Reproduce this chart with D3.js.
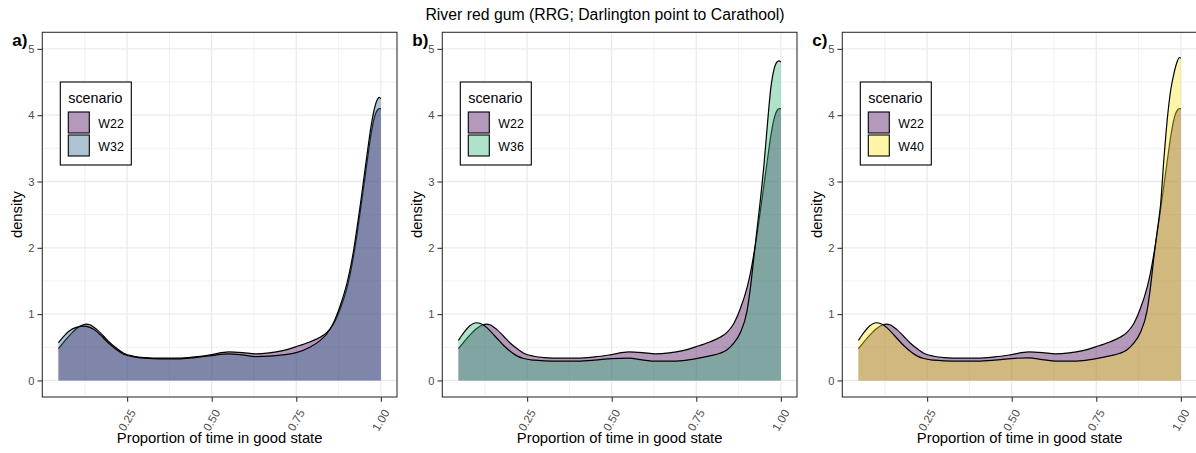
<!DOCTYPE html>
<html><head><meta charset="utf-8">
<script src="https://cdn.jsdelivr.net/npm/d3@7"></script>
<style>
body{margin:0;background:#fff;}
svg{display:block;font-family:"Liberation Sans", Arial, Helvetica, sans-serif;}
</style>
</head><body>
<svg id="chart" width="1196" height="453"></svg>
<script>
// ---- data ----
const chartTitle = "River red gum (RRG; Darlington point to Carathool)";
const panelTags = ["a)", "b)", "c)"];
const xTitle = "Proportion of time in good state";
const yTitle = "density";
const legendTitle = "scenario";
const scenarioColors = {W22: "#440154", W32: "#31688e", W36: "#35b779", W40: "#fde725"};
const panelScenarios = [["W22", "W32"], ["W22", "W36"], ["W22", "W40"]];
const xTicks = [0.25, 0.5, 0.75, 1.0];
const xTickLabels = ["0.25", "0.50", "0.75", "1.00"];
const xMinor = [0.125, 0.375, 0.625, 0.875];
const yTicks = [0, 1, 2, 3, 4, 5];
const yMinor = [0.5, 1.5, 2.5, 3.5, 4.5];
const yLimits = [0, 5];

// proportion of time in good state (density evaluation points)
const proportion = [0.047, 0.06, 0.08, 0.10, 0.12, 0.13, 0.14, 0.16, 0.18, 0.20,
  0.22, 0.24, 0.27, 0.30, 0.35, 0.40, 0.45, 0.50, 0.55, 0.59,
  0.63, 0.67, 0.71, 0.75, 0.79, 0.82, 0.84, 0.86, 0.88, 0.90,
  0.91, 0.92, 0.93, 0.94, 0.95, 0.96, 0.97, 0.98, 0.99, 0.995, 1.0];

const densityW22 = [0.48, 0.56, 0.68, 0.78, 0.84, 0.85, 0.84, 0.77, 0.67, 0.565,
  0.48, 0.41, 0.365, 0.345, 0.335, 0.335, 0.355, 0.39, 0.43, 0.42,
  0.40, 0.415, 0.45, 0.51, 0.58, 0.65, 0.72, 0.85, 1.08, 1.40,
  1.62, 1.90, 2.22, 2.58, 2.95, 3.32, 3.68, 3.95, 4.08, 4.10, 4.10];

const densityW32 = [0.57, 0.65, 0.75, 0.80, 0.82, 0.815, 0.80, 0.74, 0.64, 0.54,
  0.46, 0.395, 0.355, 0.335, 0.325, 0.325, 0.345, 0.375, 0.40, 0.385,
  0.36, 0.365, 0.385, 0.42, 0.50, 0.60, 0.70, 0.87, 1.13, 1.47,
  1.70, 1.98, 2.32, 2.68, 3.06, 3.44, 3.80, 4.08, 4.24, 4.27, 4.25];

const densityW36 = [0.605, 0.70, 0.82, 0.87, 0.84, 0.80, 0.75, 0.64, 0.53, 0.44,
  0.37, 0.33, 0.305, 0.295, 0.29, 0.29, 0.305, 0.33, 0.335, 0.31,
  0.29, 0.29, 0.30, 0.33, 0.37, 0.41, 0.46, 0.56, 0.72, 1.05,
  1.40, 1.85, 2.30, 2.75, 3.25, 3.85, 4.40, 4.70, 4.81, 4.82, 4.80];

const densityW40 = [0.605, 0.70, 0.82, 0.87, 0.84, 0.80, 0.75, 0.64, 0.53, 0.44,
  0.37, 0.33, 0.305, 0.295, 0.29, 0.29, 0.305, 0.33, 0.34, 0.315,
  0.29, 0.29, 0.30, 0.33, 0.37, 0.41, 0.46, 0.56, 0.72, 1.05,
  1.40, 1.85, 2.25, 2.65, 3.35, 3.95, 4.38, 4.64, 4.82, 4.87, 4.86];

const densityBy = {W22: densityW22, W32: densityW32, W36: densityW36, W40: densityW40};

// ---- layout ----
const fillAlpha = 0.4;
const panelW = 354.7, panelTop = 32.3, panelBottom = 397;
const panelLefts = [42.3, 442.3, 842.3];

const svg = d3.select("#chart");

svg.append("text")
  .attr("x", 605).attr("y", 20)
  .attr("text-anchor", "middle")
  .attr("font-size", 15.8).attr("fill", "#000")
  .text(chartTitle);

// ggplot-style 5% expansion of the data range
const xExt = d3.extent(proportion);
const xPad = (xExt[1] - xExt[0]) * 0.05;
const yPad = (yLimits[1] - yLimits[0]) * 0.05;

panelScenarios.forEach((pair, i) => {
  const left = panelLefts[i];
  const g = svg.append("g");

  const x = d3.scaleLinear().domain([xExt[0] - xPad, xExt[1] + xPad]).range([left, left + panelW]);
  const y = d3.scaleLinear().domain([yLimits[0] - yPad, yLimits[1] + yPad]).range([panelBottom, panelTop]);

  // background grid
  g.append("rect").attr("x", left).attr("y", panelTop)
    .attr("width", panelW).attr("height", panelBottom - panelTop).attr("fill", "#fff");
  const grid = g.append("g");
  grid.selectAll(".vmin").data(xMinor).join("line")
    .attr("x1", d => x(d)).attr("x2", d => x(d)).attr("y1", panelTop).attr("y2", panelBottom)
    .attr("stroke", "#ebebeb").attr("stroke-width", 0.7);
  grid.selectAll(".hmin").data(yMinor).join("line")
    .attr("y1", d => y(d)).attr("y2", d => y(d)).attr("x1", left).attr("x2", left + panelW)
    .attr("stroke", "#ebebeb").attr("stroke-width", 0.7);
  grid.selectAll(".vmaj").data(xTicks).join("line")
    .attr("x1", d => x(d)).attr("x2", d => x(d)).attr("y1", panelTop).attr("y2", panelBottom)
    .attr("stroke", "#ebebeb").attr("stroke-width", 1.3);
  grid.selectAll(".hmaj").data(yTicks).join("line")
    .attr("y1", d => y(d)).attr("y2", d => y(d)).attr("x1", left).attr("x2", left + panelW)
    .attr("stroke", "#ebebeb").attr("stroke-width", 1.3);

  // density areas and outlines, drawn per scenario in legend order
  const area = d3.area().x(d => x(d[0])).y0(y(0)).y1(d => y(d[1])).curve(d3.curveMonotoneX);
  const line = d3.line().x(d => x(d[0])).y(d => y(d[1])).curve(d3.curveMonotoneX);
  pair.forEach(name => {
    const pts = proportion.map((p, k) => [p, densityBy[name][k]]);
    g.append("path").attr("d", area(pts))
      .attr("fill", scenarioColors[name]).attr("fill-opacity", fillAlpha);
    g.append("path").attr("d", line(pts))
      .attr("fill", "none").attr("stroke", "#000").attr("stroke-width", 1.2);
  });

  // panel border
  g.append("rect").attr("x", left).attr("y", panelTop)
    .attr("width", panelW).attr("height", panelBottom - panelTop)
    .attr("fill", "none").attr("stroke", "#333").attr("stroke-width", 1.1);

  // axes
  const yAxis = g.append("g").attr("transform", `translate(${left},0)`)
    .call(d3.axisLeft(y).tickValues(yTicks).tickSize(4.8).tickPadding(3).tickFormat(d3.format("d")));
  yAxis.select(".domain").remove();
  yAxis.selectAll("line").attr("stroke", "#333").attr("stroke-width", 1.1);
  yAxis.selectAll("text").attr("fill", "#4d4d4d").attr("font-size", 11.2)
    .attr("font-family", "Liberation Sans, Arial, sans-serif");

  const xAxis = g.append("g").attr("transform", `translate(0,${panelBottom})`)
    .call(d3.axisBottom(x).tickValues(xTicks).tickSize(4.8).tickFormat((d, k) => xTickLabels[k]));
  xAxis.select(".domain").remove();
  xAxis.selectAll("line").attr("stroke", "#333").attr("stroke-width", 1.1);
  xAxis.selectAll("text")
    .attr("fill", "#4d4d4d").attr("font-size", 11.6)
    .attr("font-family", "Liberation Sans, Arial, sans-serif")
    .attr("text-anchor", "end")
    .attr("dy", null).attr("y", null)
    .attr("transform", "translate(8.5,15.5) rotate(-60)");

  // axis titles
  g.append("text").attr("x", left + panelW / 2).attr("y", 443)
    .attr("text-anchor", "middle").attr("font-size", 14.8).text(xTitle);
  g.append("text")
    .attr("transform", `translate(${left - 20},${(panelTop + panelBottom) / 2}) rotate(-90)`)
    .attr("text-anchor", "middle").attr("font-size", 14.8).text(yTitle);

  // panel tag
  g.append("text").attr("x", left - 30).attr("y", 46)
    .attr("font-size", 17).attr("font-weight", "bold").text(panelTags[i]);

  // legend
  const lg = g.append("g").attr("transform", `translate(${left + 18},82)`);
  lg.append("rect").attr("width", 71).attr("height", 83)
    .attr("fill", "#fff").attr("stroke", "#000").attr("stroke-width", 1.1);
  lg.append("text").attr("x", 8).attr("y", 21).attr("font-size", 14.3).text(legendTitle);
  pair.forEach((name, k) => {
    const ky = 30 + k * 23;
    lg.append("rect").attr("x", 8).attr("y", ky).attr("width", 21).attr("height", 21)
      .attr("fill", "#fff");
    lg.append("rect").attr("x", 8).attr("y", ky).attr("width", 21).attr("height", 21)
      .attr("fill", scenarioColors[name]).attr("fill-opacity", fillAlpha)
      .attr("stroke", "#000").attr("stroke-width", 1.1);
    lg.append("text").attr("x", 38).attr("y", ky + 15.5).attr("font-size", 12.4).text(name);
  });
});
</script>
</body></html>
